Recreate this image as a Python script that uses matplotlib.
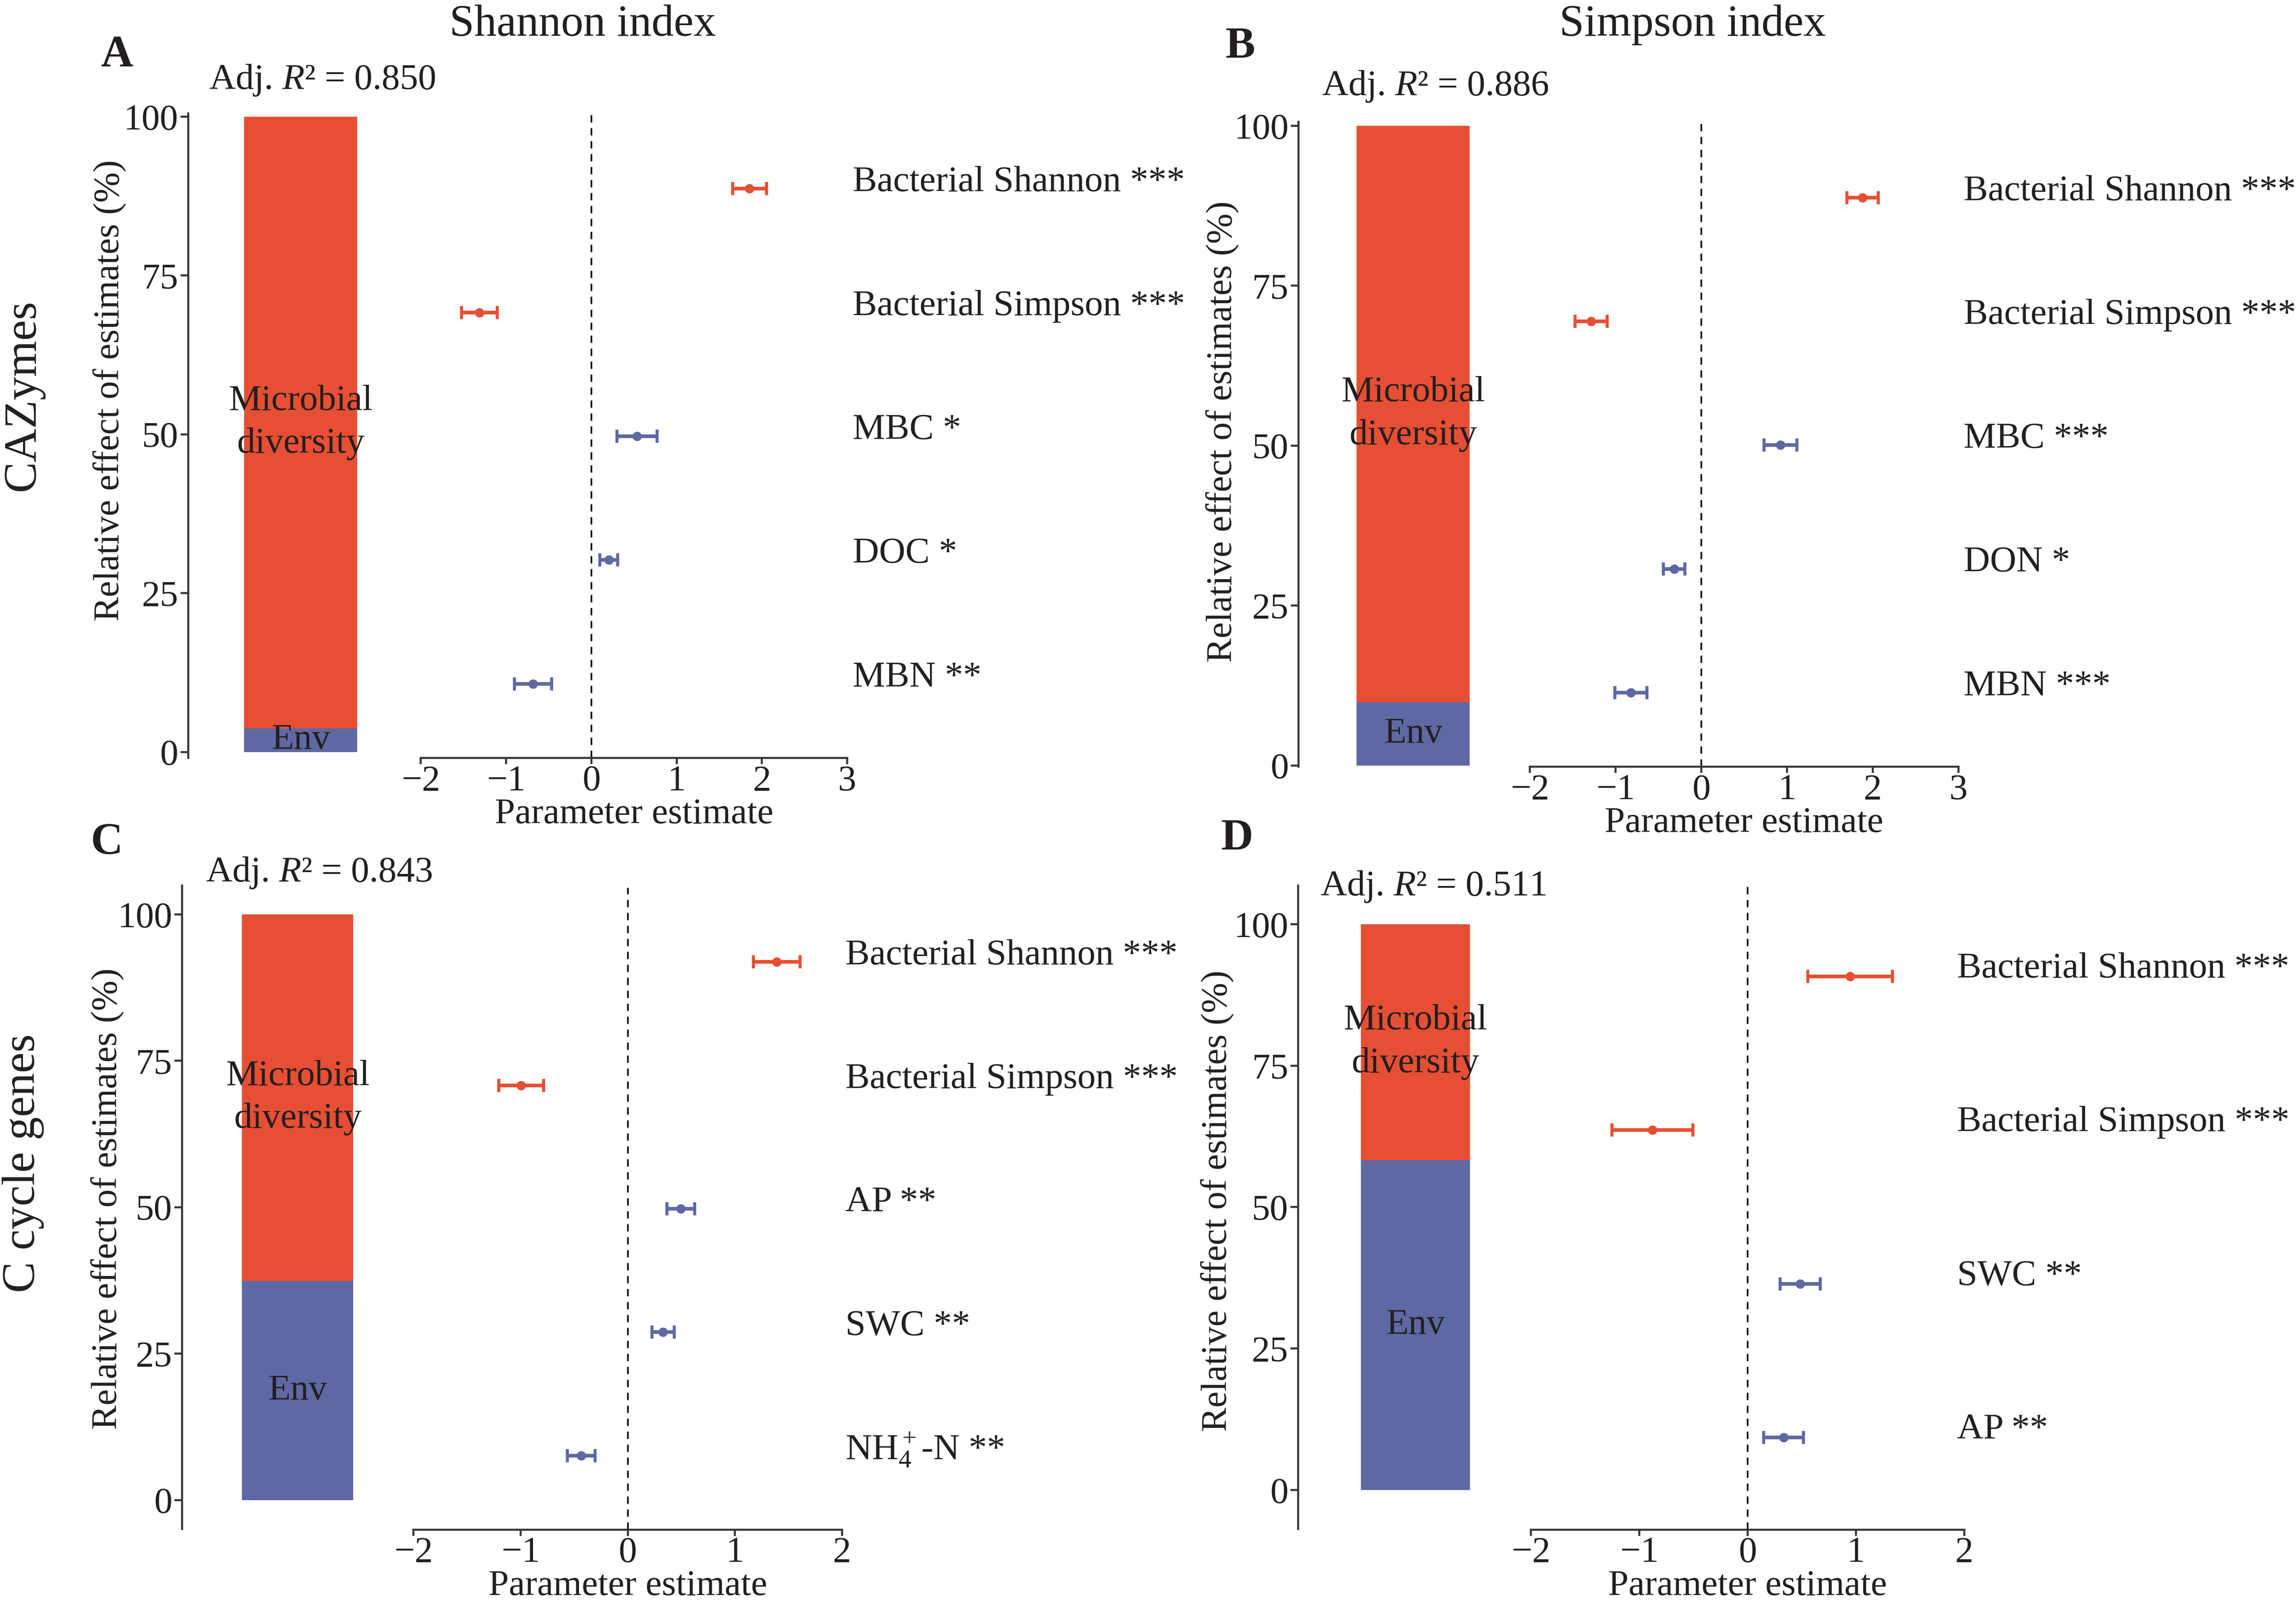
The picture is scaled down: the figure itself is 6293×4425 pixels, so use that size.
import matplotlib.pyplot as plt
import numpy as np

plt.rcParams['font.family'] = 'Liberation Serif'
plt.rcParams['mathtext.fontset'] = 'custom'
plt.rcParams['mathtext.rm'] = 'Liberation Serif'
plt.rcParams['mathtext.it'] = 'Liberation Serif:italic'
plt.rcParams['mathtext.bf'] = 'Liberation Serif:bold'

# === data ===
# A: CAZymes ~ Shannon index
a_vars = ["Bacterial Shannon ***", "Bacterial Simpson ***", "MBC *", "DOC *", "MBN **"]
a_est = [1.855, -1.31, 0.535, 0.205, -0.683]
a_err = [0.20, 0.21, 0.235, 0.105, 0.217]
a_grp = ["micro", "micro", "env", "env", "env"]
a_env = 3.7
a_r2 = "0.850"

# B: CAZymes ~ Simpson index
b_vars = ["Bacterial Shannon ***", "Bacterial Simpson ***", "MBC ***", "DON *", "MBN ***"]
b_est = [1.88, -1.284, 0.925, -0.316, -0.82]
b_err = [0.183, 0.186, 0.192, 0.124, 0.188]
b_grp = ["micro", "micro", "env", "env", "env"]
b_env = 9.9
b_r2 = "0.886"

# C: C cycle genes ~ Shannon index
c_vars = ["Bacterial Shannon ***", "Bacterial Simpson ***", "AP **", "SWC **", "NH$_4^+$-N **"]
c_est = [1.39, -0.995, 0.496, 0.33, -0.435]
c_err = [0.218, 0.209, 0.129, 0.105, 0.13]
c_grp = ["micro", "micro", "env", "env", "env"]
c_env = 37.4
c_r2 = "0.843"

# D: C cycle genes ~ Simpson index
d_vars = ["Bacterial Shannon ***", "Bacterial Simpson ***", "SWC **", "AP **"]
d_est = [0.948, -0.878, 0.485, 0.333]
d_err = [0.391, 0.375, 0.185, 0.183]
d_grp = ["micro", "micro", "env", "env"]
d_env = 58.3
d_r2 = "0.511"

RED = '#E64F33'
BLUE = '#5E69A3'
TXT = '#231f20'
SPINE = '#3a3535'
colors = {"micro": RED, "env": BLUE}

# === layout (reference pixels of a 1568 wide view) ===
W = 1568.0
H = 4425 / (6293 / 1568)

panels = [
    dict(vars=a_vars, est=a_est, err=a_err, grp=a_grp, env=a_env, r2=a_r2, letter='A',
         bar=(128.5, 77.5, 517.8, 166.8, 244.0), bar_ylim=(-0.95, 100.5),
         forest=(287.3, 578.6, 78.2, 517.8), xlim=(-2, 3), label_x=3.065,
         letter_xy=(80, 38), r2_xy=(142.7, 54.8), ylab_xy=(75, 266.7)),
    dict(vars=b_vars, est=b_est, err=b_err, grp=b_grp, env=b_env, r2=b_r2, letter='B',
         bar=(886.8, 83.3, 523.8, 926.4, 1003.7), bar_ylim=(-0.2, 100.6),
         forest=(1044.7, 1337.5, 84.4, 523.8), xlim=(-2, 3), label_x=3.06,
         letter_xy=(847, 32), r2_xy=(902.8, 59), ylab_xy=(835, 295)),
    dict(vars=c_vars, est=c_est, err=c_err, grp=c_grp, env=c_env, r2=c_r2, letter='C',
         bar=(124.3, 605, 1044.6, 165.3, 241.3), bar_ylim=(-4.95, 104.9),
         forest=(282.3, 575.1, 606.5, 1045), xlim=(-2, 2), label_x=2.03,
         letter_xy=(73, 576), r2_xy=(140.6, 596.3), ylab_xy=(73.4, 819)),
    dict(vars=d_vars, est=d_est, err=d_err, grp=d_grp, env=d_env, r2=d_r2, letter='D',
         bar=(886.6, 605, 1044.6, 929.3, 1004.0), bar_ylim=(-6.9, 106.8),
         forest=(1045.5, 1341.4, 604, 1045), xlim=(-2, 2), label_x=1.934,
         letter_xy=(845, 573), r2_xy=(901.8, 605.6), ylab_xy=(831.5, 820.3)),
]


def rect(left, right, top, bottom):
    return [left / W, 1 - bottom / H, (right - left) / W, (bottom - top) / H]


def fx(x):
    return x / W


def fy(y):
    return 1 - y / H


fig = plt.figure(figsize=(6293 / 400, 4425 / 400), dpi=400)

for p in panels:
    # --- stacked bar of relative effects ---
    spine, top, bottom, bl, br = p['bar']
    center = (bl + br) / 2
    right = 2 * center - spine
    axb = fig.add_axes(rect(spine, right, top, bottom))
    bw = (br - bl) / (right - spine)
    env = p['env']
    micro = 100 - env
    axb.bar([0.5], [env], width=bw, color=BLUE)
    axb.bar([0.5], [micro], width=bw, bottom=[env], color=RED)
    axb.text(0.5, env / 2, "Env", ha='center', va='center', fontsize=18, color=TXT)
    axb.text(0.5, env + micro / 2, "Microbial\ndiversity", ha='center', va='center',
             fontsize=18, color=TXT, linespacing=1.4)
    axb.set_xlim(0, 1)
    axb.set_ylim(*p['bar_ylim'])
    axb.set_yticks([0, 25, 50, 75, 100])
    axb.set_xticks([])
    for s in ['top', 'right', 'bottom']:
        axb.spines[s].set_visible(False)
    axb.spines['left'].set_color(SPINE)
    axb.spines['left'].set_linewidth(1.0)
    axb.tick_params(axis='y', labelsize=18, length=3.8, width=1.0, pad=1.1,
                    colors=SPINE, labelcolor=TXT)
    axb.patch.set_alpha(0)

    # --- parameter estimates ---
    fl, fr, ft, fb = p['forest']
    axf = fig.add_axes(rect(fl, fr, ft, fb))
    n = len(p['vars'])
    rows = np.arange(n, 0, -1)
    axf.axvline(0, color='black', lw=0.8, linestyle=(0, (4.5, 3.5)), zorder=1)
    for g in ["micro", "env"]:
        idx = [i for i in range(n) if p['grp'][i] == g]
        axf.errorbar(np.array(p['est'])[idx], rows[idx], xerr=np.array(p['err'])[idx],
                     fmt='o', ms=3.6, color=colors[g], ecolor=colors[g],
                     elinewidth=1.8, capsize=3.2, capthick=1.5, zorder=3)
    for i in range(n):
        axf.text(p['label_x'], rows[i] + 0.05, p['vars'][i], fontsize=18,
                 ha='left', va='center', color=TXT, clip_on=False)
    axf.set_xlim(*p['xlim'])
    axf.set_ylim(0.4, n + 0.6)
    axf.set_xticks(np.arange(p['xlim'][0], p['xlim'][1] + 1))
    axf.set_yticks([])
    for s in ['top', 'right', 'left']:
        axf.spines[s].set_visible(False)
    axf.spines['bottom'].set_color(SPINE)
    axf.spines['bottom'].set_linewidth(1.0)
    axf.tick_params(axis='x', labelsize=18, length=3, width=1.0, pad=0.5,
                    colors=SPINE, labelcolor=TXT)
    axf.patch.set_alpha(0)

    fig.text(fx((fl + fr) / 2), fy(fb + 38.5), "Parameter estimate", fontsize=18,
             ha='center', va='center', color=TXT)
    lx, ly = p['letter_xy']
    fig.text(fx(lx), fy(ly), p['letter'], fontsize=22, fontweight='bold',
             ha='center', va='center', color=TXT)
    rx, ry = p['r2_xy']
    fig.text(fx(rx), fy(ry), "Adj. $\\mathit{R}$\u00b2 = " + p['r2'], fontsize=18,
             ha='left', va='center', color=TXT)
    yx, yy = p['ylab_xy']
    fig.text(fx(yx), fy(yy), "Relative effect of estimates (%)", fontsize=18,
             rotation=90, ha='center', va='center', color=TXT)

fig.text(fx(398), fy(17), "Shannon index", fontsize=22, ha='center', va='center', color=TXT)
fig.text(fx(1156), fy(17), "Simpson index", fontsize=22, ha='center', va='center', color=TXT)
fig.text(fx(15.7), fy(270), "CAZymes", fontsize=23, rotation=90, ha='center', va='center', color=TXT)
fig.text(fx(15.7), fy(794.7), "C cycle genes", fontsize=23, rotation=90, ha='center', va='center', color=TXT)

fig.savefig('out.png', dpi=400, facecolor='white')
